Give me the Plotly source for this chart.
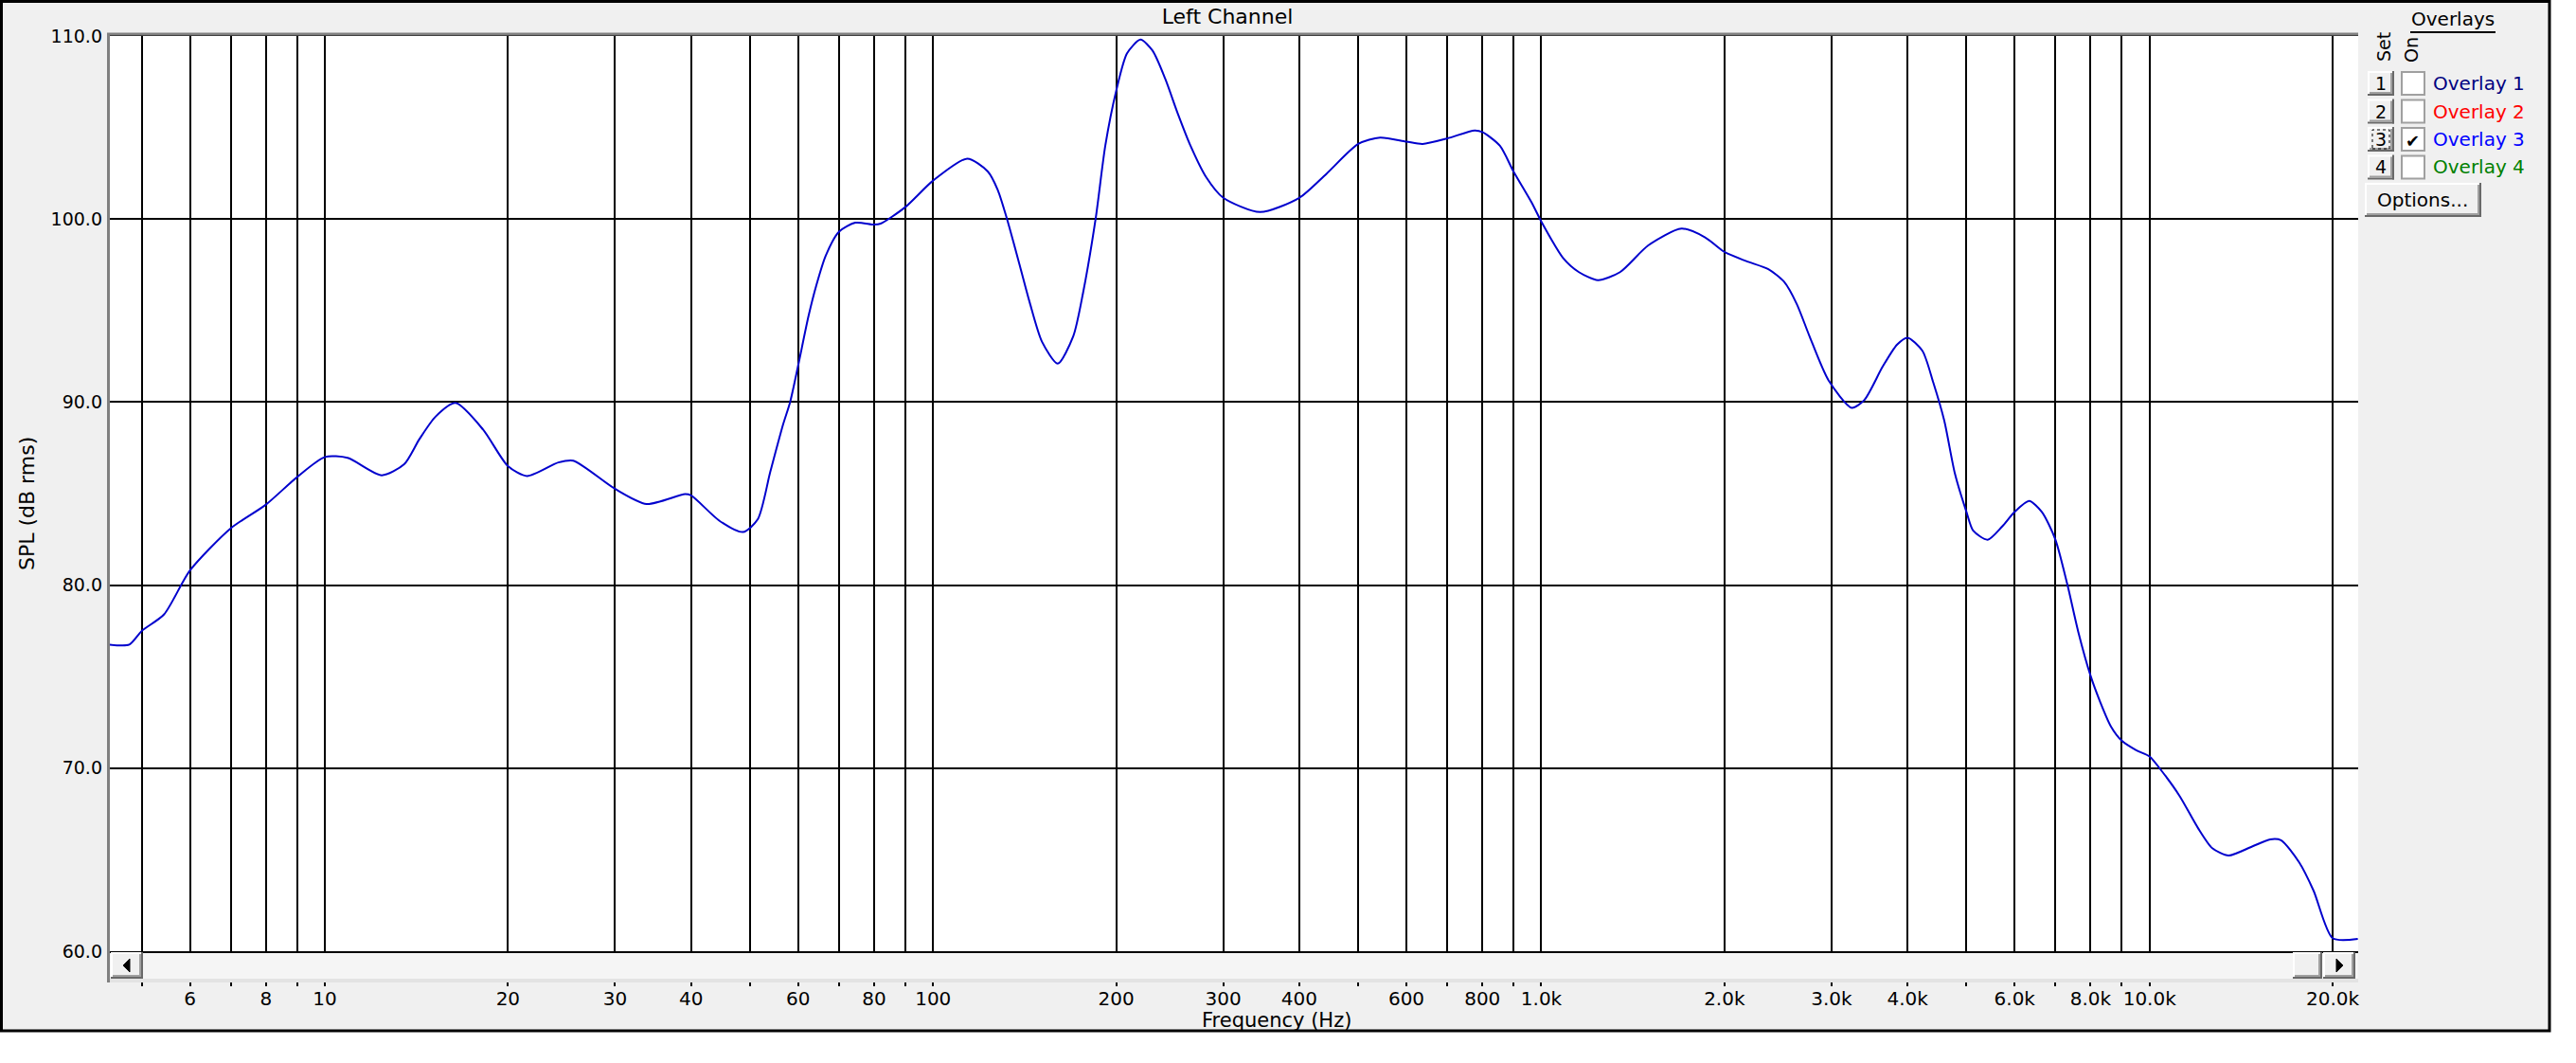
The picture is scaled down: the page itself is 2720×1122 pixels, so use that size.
import plotly.graph_objects as go

# ---------------- data ----------------
freq_hz = [4.43, 4.77, 5.0, 5.44, 6.0, 7.0, 8.0, 9.0, 10.0, 10.9, 12.4, 13.5, 14.3, 15.2,
           16.4, 18.2, 20.0, 21.5, 24.2, 25.6, 30.0, 33.8, 39.1, 40.0, 44.6, 48.7, 51.5,
           54.0, 56.7, 58.2, 60.0, 62.4, 64.3, 66.6, 70.0, 74.5, 80.0, 82.0, 90.0, 100.0,
           113.8, 123.0, 127.7, 132.3, 139.0, 144.0, 151.0, 160.3, 170.0, 176.5, 185.0,
           191.9, 200.0, 208.4, 219.3, 229.5, 240.8, 252.6, 265.0, 281.0, 300.0, 344.7,
           400.0, 443.0, 500.0, 543.0, 600.0, 638.0, 700.0, 777.0, 800.0, 855.0, 900.0,
           964.0, 1000.0, 1086.0, 1153.0, 1239.0, 1347.0, 1499.0, 1700.0, 1859.0, 2000.0,
           2173.0, 2362.0, 2507.0, 2630.0, 2760.0, 2965.0, 3239.0, 3398.0, 3640.0, 3845.0,
           4000.0, 4232.0, 4410.0, 4596.0, 4788.0, 5000.0, 5130.0, 5418.0, 5723.0, 6000.0,
           6339.0, 6652.0, 7000.0, 7330.0, 7633.0, 8000.0, 8286.0, 8638.0, 9000.0, 9508.0,
           10000.0, 10463.0, 11206.0, 12004.0, 12680.0, 13487.0, 14744.0, 15790.0, 16450.0,
           17620.0, 18610.0, 20000.0, 22000.0]
spl_db = [76.75, 76.75, 77.5, 78.4, 80.8, 83.1, 84.4, 85.9, 87.0, 86.95, 86.0, 86.6, 87.97, 89.2,
          89.95, 88.5, 86.5, 85.96, 86.7, 86.8, 85.26, 84.43, 84.97, 84.9, 83.5, 82.9, 83.6,
          86.2, 88.8, 90.0, 92.0, 94.7, 96.4, 98.0, 99.3, 99.8, 99.7, 99.75, 100.65, 102.1,
          103.3, 102.6, 101.6, 100.0, 97.4, 95.5, 93.3, 92.1, 93.6, 96.0, 100.0,
          104.0, 107.0, 109.05, 109.8, 109.2, 107.66, 105.75, 104.0, 102.3, 101.16, 100.38,
          101.16, 102.46, 104.1, 104.45, 104.23, 104.1, 104.4, 104.84, 104.75, 104.0, 102.6,
          100.9, 99.86, 97.87, 97.1, 96.66, 97.1, 98.56, 99.48, 99.0, 98.2,
          97.7, 97.26, 96.57, 95.36, 93.6, 91.2, 89.69, 90.12, 91.93, 93.14,
          93.52, 92.8, 91.07, 89.0, 86.07, 84.0, 82.97, 82.48, 83.2, 84.0,
          84.6, 84.0, 82.5, 80.0, 77.46, 75.04, 73.66, 72.28, 71.5, 70.98,
          70.64, 69.86, 68.48, 66.75, 65.63, 65.23, 65.72, 66.11, 66.06,
          64.85, 63.3, 60.71, 60.67]

grid_freqs = [5, 6, 7, 8, 9, 10, 20, 30, 40, 50, 60, 70, 80, 90, 100, 200, 300, 400, 500,
              600, 700, 800, 900, 1000, 2000, 3000, 4000, 5000, 6000, 7000, 8000, 9000,
              10000, 20000]
x_tick_labels = ["", "6", "", "8", "", "10", "20", "30", "40", "", "60", "", "80", "", "100",
                 "200", "300", "400", "", "600", "", "800", "", "1.0k", "2.0k", "3.0k", "4.0k",
                 "", "6.0k", "", "8.0k", "", "10.0k", "20.0k"]
y_ticks = [60, 70, 80, 90, 100, 110]
y_tick_labels = ["60.0", "70.0", "80.0", "90.0", "100.0", "110.0"]
overlay_names = ["Overlay 1", "Overlay 2", "Overlay 3", "Overlay 4"]
overlay_colors = ["#000080", "#FF0000", "#0000FF", "#008000"]
overlay_on = [False, False, True, False]

# ---------------- geometry helpers (pixels -> paper) ----------------
W, H = 2720, 1122
L, R, T, B = 116, 2490, 38, 1034
def px(x):
    return (x - L) / (R - L)
def py(y):
    return (B - y) / (B - T)

FONT = "DejaVu Sans"
FS = 21

fig = go.Figure()
fig.add_trace(go.Scatter(x=freq_hz, y=spl_db, mode="lines",
                         line=dict(color="#0000CD", width=2, shape="spline", smoothing=0.7),
                         hoverinfo="skip", showlegend=False))
# carrier trace so the labelled frequency axis is drawn
fig.add_trace(go.Scatter(x=[100], y=[None], xaxis="x2", yaxis="y", mode="lines",
                         showlegend=False, hoverinfo="skip"))

xrange = [0.6465, 4.343]
fig.update_layout(
    width=W, height=H, autosize=False,
    margin=dict(l=L, r=W - R, t=T, b=H - B, pad=0),
    paper_bgcolor="white", plot_bgcolor="rgba(0,0,0,0)",
    font=dict(family=FONT, size=FS, color="black"),
    title=dict(text="Left Channel", x=1296 / W, xanchor="center", xref="container",
               y=1 - 17 / H, yanchor="middle", yref="container",
               font=dict(family=FONT, size=22, color="black")),
    xaxis=dict(type="log", range=xrange, tickmode="array", tickvals=grid_freqs,
               showticklabels=False, ticks="", showgrid=True, gridcolor="black", gridwidth=2,
               showline=True, linecolor="black", linewidth=2, mirror=True, zeroline=False,
               anchor="y", fixedrange=True),
    xaxis2=dict(type="log", range=xrange, overlaying="x", anchor="free", position=0,
                side="bottom", tickmode="array", tickvals=grid_freqs, ticktext=x_tick_labels,
                ticks="outside", ticklen=6, tickwidth=2, tickcolor="black", showgrid=False,
                showline=False, zeroline=False, tickfont=dict(family=FONT, size=20, color="black"),
                ticklabelstandoff=-4),
    yaxis=dict(range=[60, 110], domain=[py(1004), 1], tickmode="array", tickvals=y_ticks,
               ticktext=y_tick_labels, ticks="", showgrid=True, gridcolor="black", gridwidth=2,
               showline=False, zeroline=False, tickfont=dict(family=FONT, size=19, color="black"),
               ticklabelstandoff=7),
    showlegend=False,
)

shapes = []
def rect(x0, y0, x1, y1, fill=None, line=None, lw=0, layer="below", dash=None):
    d = dict(type="rect", xref="paper", yref="paper", x0=px(x0), x1=px(x1), y0=py(y1), y1=py(y0),
             layer=layer, fillcolor=fill if fill else "rgba(0,0,0,0)",
             line=dict(color=line if line else "rgba(0,0,0,0)", width=lw))
    if dash:
        d["line"]["dash"] = dash
    shapes.append(d)
def hline(x0, x1, y, color, lw, layer="above"):
    shapes.append(dict(type="line", xref="paper", yref="paper", x0=px(x0), x1=px(x1),
                       y0=py(y), y1=py(y), line=dict(color=color, width=lw), layer=layer))
def vline(x, y0, y1, color, lw, layer="above"):
    shapes.append(dict(type="line", xref="paper", yref="paper", x0=px(x), x1=px(x),
                       y0=py(y0), y1=py(y1), line=dict(color=color, width=lw), layer=layer))
def poly(points, color):
    p = "M " + " L ".join(f"{px(a):.6f},{py(b):.6f}" for a, b in points) + " Z"
    shapes.append(dict(type="path", xref="paper", yref="paper", path=p, fillcolor=color,
                       line=dict(color=color, width=1), layer="above"))
def button(x0, y0, x1, y1):
    rect(x0, y0, x1, y1, fill="#F0F0F0", layer="above")
    hline(x0, x1, y0 + 1, "#FFFFFF", 2)
    vline(x0 + 1, y0, y1, "#FFFFFF", 2)
    hline(x0, x1, y1 - 1, "#696969", 2)
    vline(x1 - 1, y0, y1, "#696969", 2)
    hline(x0 + 2, x1 - 2, y1 - 3, "#A0A0A0", 2)
    vline(x1 - 3, y0 + 2, y1 - 2, "#A0A0A0", 2)

# window panel and plot background
rect(1.5, 1.5, 2692, 1088, fill="#F0F0F0", line="black", lw=3)
rect(L, T, R, 1004, fill="white")
# scrollbar track
rect(L, 1004, R, 1033, fill="#F5F5F5")
hline(L, R, 1035, "#E3E3E3", 4)
# sunken frame edges of plot
hline(113, R, 36, "#808080", 3)
vline(114.5, 35, 1037, "#808080", 3)
# scrollbar buttons
button(117, 1005, 151, 1033)
poly([(137, 1012), (130, 1019), (137, 1026)], "black")
button(2421, 1005, 2452, 1033)
button(2453, 1005, 2487, 1033)
poly([(2467, 1012), (2474, 1019), (2467, 1026)], "black")

annotations = []
def text(x, y, s, size=FS, color="black", xanchor="center", angle=0):
    annotations.append(dict(x=px(x), y=py(y), xref="paper", yref="paper", text=s,
                            showarrow=False, xanchor=xanchor, yanchor="middle",
                            textangle=angle, font=dict(family=FONT, size=size, color=color)))

text(28, 532, "SPL (dB rms)", size=22, angle=-90)
text(1348, 1077, "Frequency (Hz)", size=21)

# overlay panel
text(2590, 20, "Overlays", size=20, color="#000000")
hline(2545, 2635, 34, "#000000", 2)
text(2517, 50, "Set", size=19, angle=-90, color="#000000")
text(2546, 53, "On", size=19, angle=-90, color="#000000")
for i, (name, col, on) in enumerate(zip(overlay_names, overlay_colors, overlay_on)):
    cy = 88 + 29.5 * i
    button(2500, cy - 13, 2528, cy + 13)
    text(2514, cy, str(i + 1), size=19)
    if on:
        rect(2505, cy - 10, 2523, cy + 10, line="black", lw=1, dash="dot", layer="above")
    rect(2536, cy - 12, 2560, cy + 12, fill="white", line="#A0A0A0", lw=2, layer="above")
    if on:
        text(2548, cy + 1, "✔", size=18)
    text(2567, cy, name, size=20, color=col, xanchor="left")
button(2497, 193, 2620, 229)
text(2558, 211, "Options...", size=20)

fig.update_layout(shapes=shapes, annotations=annotations)
fig.write_html("out.html", config={"displayModeBar": False},
               post_script="document.body.style.margin='0px';")
